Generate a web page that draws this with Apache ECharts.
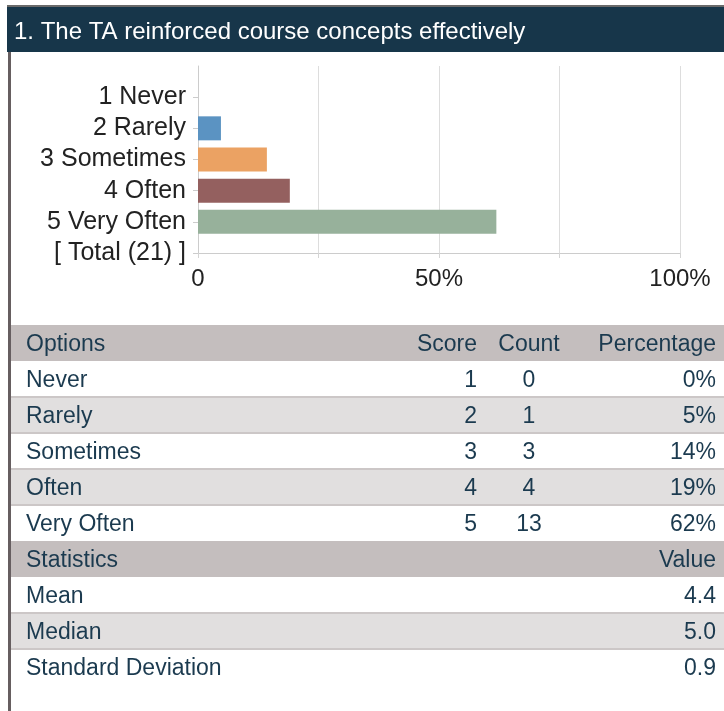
<!DOCTYPE html>
<html><head><meta charset="utf-8">
<script src="https://cdn.jsdelivr.net/npm/echarts@6/dist/echarts.min.js"></script>
<style>html,body{margin:0;padding:0;background:#fff}#c{width:724px;height:711px}</style>
</head><body><div id="c"></div>
<script>
const titleText = '1. The TA reinforced course concepts effectively';
const categories = ['', '1 Never', '2 Rarely', '3 Sometimes', '4 Often', '5 Very Often', '[ Total (21) ]'];
const percentValues = [null, 0, 4.76, 14.29, 19.05, 61.90, null];
const barColors = ['#5b93c2', '#5b93c2', '#5b93c2', '#eba263', '#94605f', '#97b19b', '#5b93c2'];
const xTicks = [0, 25, 50, 75, 100];
const xTickLabels = ['0', '', '50%', '', '100%'];

const tableHeader = ['Options', 'Score', 'Count', 'Percentage'];
const options = ['Never', 'Rarely', 'Sometimes', 'Often', 'Very Often'];
const scores = ['1', '2', '3', '4', '5'];
const counts = ['0', '1', '3', '4', '13'];
const pctLabels = ['0%', '5%', '14%', '19%', '62%'];
const statHeader = ['Statistics', 'Value'];
const statNames = ['Mean', 'Median', 'Standard Deviation'];
const statValues = ['4.4', '5.0', '0.9'];

const FONT = '"Liberation Sans", Arial, sans-serif';
const TXT = '#1b3a4f';
const tableTop = 325, rowH = 36, tableLeft = 11, tableRight = 724;
const colOptX = 26, colScoreX = 477, colCountX = 529, colPctX = 716;

const graphics = [];
graphics.push({type:'rect', shape:{x:7, y:5, width:717, height:2}, style:{fill:'#6a6a6a'}});
graphics.push({type:'rect', shape:{x:7, y:7, width:717, height:45}, style:{fill:'#17364a'}});
graphics.push({type:'text', x:14, y:32, style:{text:titleText, fill:'#ffffff', font:'24px ' + FONT, textVerticalAlign:'middle'}});
graphics.push({type:'rect', shape:{x:8, y:52, width:3, height:659}, style:{fill:'#665e60'}});

const rows = [];
rows.push({kind:'head', cells:[[tableHeader[0],'left',colOptX],[tableHeader[1],'right',colScoreX],[tableHeader[2],'center',colCountX],[tableHeader[3],'right',colPctX]]});
options.forEach((o, i) => rows.push({kind:'data', alt:i % 2 === 1, cells:[[o,'left',colOptX],[scores[i],'right',colScoreX],[counts[i],'center',colCountX],[pctLabels[i],'right',colPctX]]}));
rows.push({kind:'head', cells:[[statHeader[0],'left',colOptX],[statHeader[1],'right',colPctX]]});
statNames.forEach((s, i) => rows.push({kind:'data', alt:i % 2 === 1, cells:[[s,'left',colOptX],[statValues[i],'right',colPctX]]}));

rows.forEach((r, i) => {
  const y = tableTop + i * rowH;
  const fill = r.kind === 'head' ? '#c4bebe' : (r.alt ? '#e1dfdf' : '#ffffff');
  graphics.push({type:'rect', shape:{x:tableLeft, y:y, width:tableRight - tableLeft, height:rowH}, style:{fill:fill}});
  if (r.kind === 'data' && i > 0 && rows[i-1].kind === 'data') {
    graphics.push({type:'rect', shape:{x:tableLeft, y:y - 1, width:tableRight - tableLeft, height:2}, style:{fill:'#ccc7c7'}});
  }
  r.cells.forEach(c => {
    graphics.push({type:'text', x:c[2], y:y + rowH / 2 + 1.5, style:{text:c[0], fill:TXT, font:'23px ' + FONT, textAlign:c[1], textVerticalAlign:'middle'}});
  });
});

const chart = echarts.init(document.getElementById('c'), null, {renderer:'canvas'});
chart.setOption({
  animation:false,
  backgroundColor:'#ffffff',
  grid:{left:198, right:44, top:66, bottom:458, containLabel:false},
  xAxis:{
    type:'value', min:0, max:100, interval:25,
    axisLine:{show:true, lineStyle:{color:'#cccccc', width:1}},
    axisTick:{show:true, length:5, lineStyle:{color:'#d4d4d4'}},
    splitLine:{show:true, lineStyle:{color:'#dddddd', width:1}},
    axisLabel:{fontSize:24, color:'#222222', fontFamily:FONT, margin:14,
      formatter:(v) => { const k = xTicks.indexOf(v); return k >= 0 ? xTickLabels[k] : ''; }}
  },
  yAxis:{
    type:'category', inverse:true, boundaryGap:false, data:categories,
    axisLine:{show:true, lineStyle:{color:'#cccccc', width:1}},
    axisTick:{show:true, length:5, interval:(i) => i > 0, lineStyle:{color:'#cccccc'}},
    splitLine:{show:false},
    axisLabel:{fontSize:25, color:'#222222', fontFamily:FONT, margin:12, interval:0, padding:[3,0,0,0]}
  },
  series:[{
    type:'bar', barWidth:24,
    data:percentValues.map((v, i) => ({value:v, itemStyle:{color:barColors[i]}})),
    label:{show:false}
  }],
  graphic:graphics
});
</script></body></html>
